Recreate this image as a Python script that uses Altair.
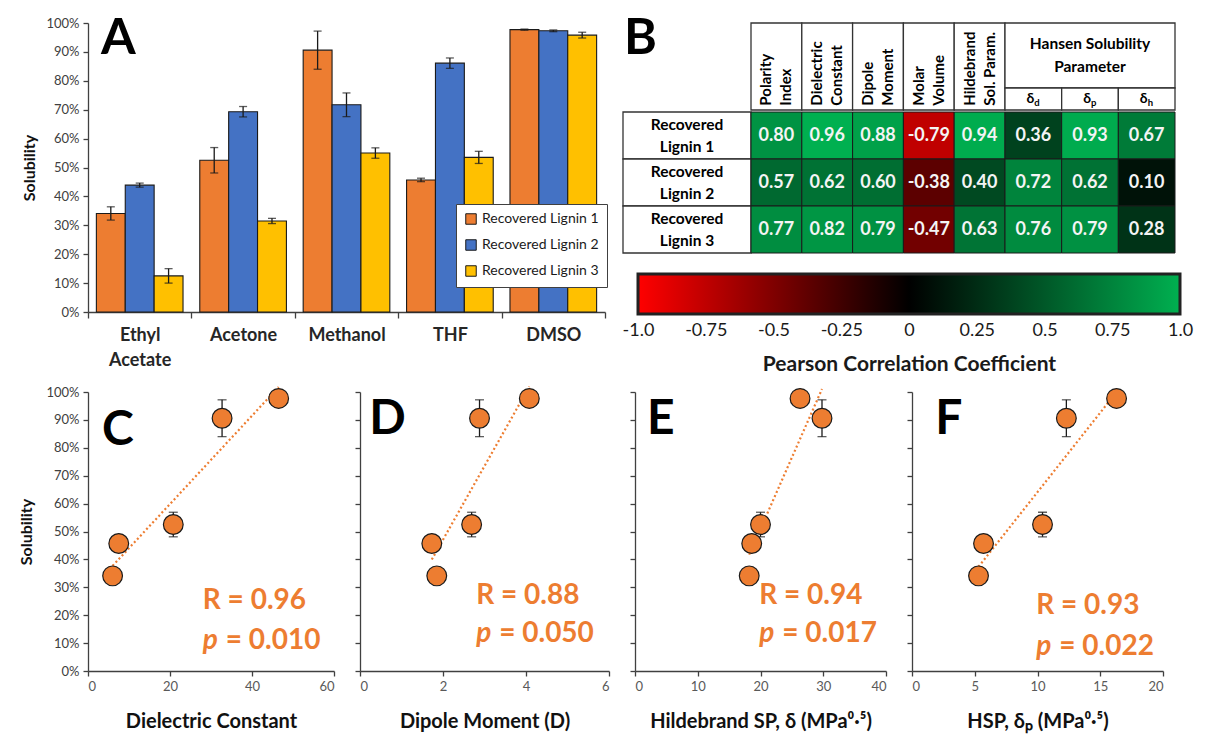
import altair as alt
import pandas as pd

FONT = "Lato"
ORANGE = "#ED7D31"
DARK = "#1a1a1a"
AXC = "#404040"

# ---------------- data ----------------
solvents = ["Ethyl Acetate", "Acetone", "Methanol", "THF", "DMSO"]
lignins = ["Recovered Lignin 1", "Recovered Lignin 2", "Recovered Lignin 3"]
lignin_colors = ["#ED7D31", "#4472C4", "#FFC000"]

sol_l1 = [34.1, 52.5, 90.6, 45.7, 97.7]
sol_l2 = [43.9, 69.3, 71.7, 86.1, 97.3]
sol_l3 = [12.5, 31.5, 55.0, 53.5, 95.8]
err_l1 = [2.3, 4.4, 6.6, 0.6, 0.2]
err_l2 = [0.7, 1.8, 4.1, 1.8, 0.3]
err_l3 = [2.5, 0.9, 1.8, 2.1, 1.0]
sol_ticks = list(range(0, 101, 10))

dielectric = [6.0, 20.8, 32.7, 7.5, 46.5]
dipole = [1.85, 2.69, 2.88, 1.73, 4.08]
hildebrand = [18.2, 20.0, 29.8, 18.6, 26.3]
hsp_dp = [5.3, 10.4, 12.3, 5.7, 16.3]

corr_cols_main = ["Polarity\nIndex", "Dielectric\nConstant", "Dipole\nMoment",
                  "Molar\nVolume", "Hildebrand\nSol. Param."]
corr_cols_hsp = ["d", "p", "h"]
hsp_header = "Hansen Solubility\nParameter"
row_labels = ["Recovered\nLignin 1", "Recovered\nLignin 2", "Recovered\nLignin 3"]
corr_l1 = [0.80, 0.96, 0.88, -0.79, 0.94, 0.36, 0.93, 0.67]
corr_l2 = [0.57, 0.62, 0.60, -0.38, 0.40, 0.72, 0.62, 0.10]
corr_l3 = [0.77, 0.82, 0.79, -0.47, 0.63, 0.76, 0.79, 0.28]

cbar_ticks = [-1.0, -0.75, -0.5, -0.25, 0.0, 0.25, 0.5, 0.75, 1.0]
cbar_labels = ["-1.0", "-0.75", "-0.5", "-0.25", "0", "0.25", "0.5", "0.75", "1.0"]

panels = [
    dict(letter="C", xvals=dielectric, xdom=[0, 60], xticks=[0, 20, 40, 60],
         xtitle="Dielectric Constant", R="R = 0.96", P="= 0.010",
         ann=(28.0, 25.0, 10.6), lpos=(3.4, 81.0), show_y=True),
    dict(letter="D", xvals=dipole, xdom=[0, 6], xticks=[0, 2, 4, 6],
         xtitle="Dipole Moment (D)", R="R = 0.88", P="= 0.050",
         ann=(2.8, 26.8, 13.4), lpos=(0.22, 85.0), show_y=False),
    dict(letter="E", xvals=hildebrand, xdom=[0, 40], xticks=[0, 10, 20, 30, 40],
         xtitle="Hildebrand SP, δ (MPa⁰·⁵)", R="R = 0.94", P="= 0.017",
         ann=(19.8, 26.9, 13.2), lpos=(1.9, 85.0), show_y=False),
    dict(letter="F", xvals=hsp_dp, xdom=[0, 20], xticks=[0, 5, 10, 15, 20],
         xtitle="HSP, δₚ (MPa⁰·⁵)", R="R = 0.93", P="= 0.022",
         ann=(9.9, 23.4, 8.6), lpos=(1.86, 85.0), show_y=False),
]

# ---------------- panel A ----------------
rows = []
for lig, sols, errs in zip(lignins, [sol_l1, sol_l2, sol_l3], [err_l1, err_l2, err_l3]):
    for s, v, e in zip(solvents, sols, errs):
        rows.append({"solvent": s, "lignin": lig, "sol": v, "lo": v - e, "hi": v + e})
dfA = pd.DataFrame(rows)

axA_x = alt.Axis(title=None, tickBand="extent", labelAngle=0, labelFontSize=18,
                 labelFontWeight="bold", labelColor="#262626", labelPadding=8,
                 labelLineHeight=25, labelExpr="split(datum.label, ' ')",
                 tickSize=6, domainColor=AXC, tickColor=AXC, domainWidth=1.3, tickWidth=1.3)
axA_y = alt.Axis(title="Solubility", values=sol_ticks, labelExpr="datum.value + '%'",
                 grid=False, titleFontSize=16, titleFontWeight="bold", titleColor="#111",
                 titlePadding=8, labelFontSize=13, labelColor="#404040", tickSize=5,
                 labelPadding=4, domainColor=AXC, tickColor=AXC, domainWidth=1.3, tickWidth=1.3)
scA_x = alt.Scale(paddingInner=0, paddingOuter=0)
scA_y = alt.Scale(domain=[0, 100], nice=False)


def XA(**kw):
    return alt.X("solvent:N", sort=solvents, scale=scA_x, axis=axA_x, **kw)


def YA(f):
    return alt.Y(f, scale=scA_y, axis=axA_y)


XO = alt.XOffset("lignin:N", sort=lignins, scale=alt.Scale(paddingInner=0, paddingOuter=0.29))

bars = alt.Chart(dfA).mark_bar(stroke=DARK, strokeWidth=1.1).encode(
    x=XA(), xOffset=XO, y=YA("sol:Q"),
    color=alt.Color("lignin:N", sort=lignins,
                    scale=alt.Scale(domain=lignins, range=lignin_colors),
                    legend=alt.Legend(title=None, orient="none", legendX=368, legendY=181,
                                      direction="vertical", fillColor="white",
                                      strokeColor="#404040", padding=8,
                                      symbolType="square", symbolSize=110,
                                      symbolStrokeColor=DARK, symbolStrokeWidth=1,
                                      symbolOpacity=1,
                                      labelFontSize=14, labelColor="#1a1a1a",
                                      labelOffset=4, rowPadding=10)))
err_rule = alt.Chart(dfA).mark_rule(color=DARK, strokeWidth=1.3).encode(
    x=XA(), xOffset=XO, y=YA("lo:Q"), y2="hi:Q")
cap_lo = alt.Chart(dfA).mark_tick(color=DARK, thickness=1.3, size=8, orient="horizontal").encode(
    x=XA(), xOffset=XO, y=YA("lo:Q"))
cap_hi = alt.Chart(dfA).mark_tick(color=DARK, thickness=1.3, size=8, orient="horizontal").encode(
    x=XA(), xOffset=XO, y=YA("hi:Q"))
letterA = alt.Chart(pd.DataFrame({"solvent": [solvents[0]], "ly": [89.3], "L": ["A"]})).mark_text(
    align="left", baseline="alphabetic", fontSize=50, fontWeight="bold", color="black", dx=13
).encode(x=XA(bandPosition=0), y=YA("ly:Q"), text="L:N")

chartA = alt.layer(bars, err_rule, cap_lo, cap_hi, letterA).properties(width=517, height=289)

# ---------------- panel B (table) ----------------
band0 = alt.Scale(type="band", paddingInner=0, paddingOuter=0)
all_corr = corr_l1 + corr_l2 + corr_l3
cell_scale = alt.Scale(domain=[min(all_corr), 0, max(all_corr)],
                       range=["#C00000", "#000000", "#00B050"], interpolate="rgb")

body_rows = []
all_cols = corr_cols_main + corr_cols_hsp
for rl, vals in zip(row_labels, [corr_l1, corr_l2, corr_l3]):
    for c, v in zip(all_cols, vals):
        body_rows.append({"row": rl, "col": c, "v": v, "lab": f"{v:.2f}"})
dfBody = pd.DataFrame(body_rows)


def cells_chart(cols, width):
    d = dfBody[dfBody["col"].isin(cols)]
    x = alt.X("col:N", sort=cols, scale=band0, axis=None)
    y = alt.Y("row:N", sort=row_labels, scale=band0, axis=None)
    r = alt.Chart(d).mark_rect(stroke=DARK, strokeWidth=1).encode(
        x=x, y=y, fill=alt.Fill("v:Q", scale=cell_scale, legend=None))
    t = alt.Chart(d).mark_text(color="#F4F4F4", fontSize=18, fontWeight="bold").encode(
        x=x, y=y, text="lab:N")
    return alt.layer(r, t).properties(width=width, height=141)


cells5 = cells_chart(corr_cols_main, 254)
cells3 = cells_chart(corr_cols_hsp, 170)

dfRL = pd.DataFrame({"row": row_labels, "k": ["r"] * 3})
rl_x = alt.X("k:N", scale=band0, axis=None)
rl_y = alt.Y("row:N", sort=row_labels, scale=band0, axis=None)
rl_rect = alt.Chart(dfRL).mark_rect(fill="white", stroke="#333", strokeWidth=1.3).encode(x=rl_x, y=rl_y)
rl_text = alt.Chart(dfRL).mark_text(fontSize=15.5, fontWeight="bold", color="black",
                                    lineBreak="\n", lineHeight=22, dy=-11).encode(
    x=rl_x, y=rl_y, text="row:N")
rowlab = alt.layer(rl_rect, rl_text).properties(width=128, height=141)

dfH5 = pd.DataFrame({"col": corr_cols_main, "k": ["h"] * 5})
h5_x = alt.X("col:N", sort=corr_cols_main, scale=band0, axis=None)
h5_rect = alt.Chart(dfH5).mark_rect(fill="white", stroke="#333", strokeWidth=1.3).encode(
    x=h5_x, y=alt.Y("k:N", scale=band0, axis=None))
h5_text = alt.Chart(dfH5).mark_text(angle=270, align="left", baseline="middle", fontSize=15,
                                    fontWeight="bold", color="black", lineBreak="\n",
                                    lineHeight=20, dy=-10).encode(
    x=h5_x, y=alt.Y("k:N", scale=band0, axis=None, bandPosition=0.95), text="col:N")
hdr5 = alt.layer(h5_rect, h5_text).properties(width=254, height=87)

dfHT = pd.DataFrame({"k": ["t"], "lab": [hsp_header]})
ht_x = alt.X("k:N", scale=band0, axis=None)
ht_y = alt.Y("k:N", scale=band0, axis=None)
ht_rect = alt.Chart(dfHT).mark_rect(fill="white", stroke="#333", strokeWidth=1.3).encode(x=ht_x, y=ht_y)
ht_text = alt.Chart(dfHT).mark_text(fontSize=15.5, fontWeight="bold", color="black",
                                    lineBreak="\n", lineHeight=23, dy=-11.5).encode(
    x=ht_x, y=ht_y, text="lab:N")
htop = alt.layer(ht_rect, ht_text).properties(width=170, height=65)

dfHS = pd.DataFrame({"col": corr_cols_hsp, "k": ["s"] * 3, "g": ["δ"] * 3})
xs_ = alt.X("col:N", sort=corr_cols_hsp, scale=band0, axis=None)
ys_ = alt.Y("k:N", scale=band0, axis=None)
hs_rect = alt.Chart(dfHS).mark_rect(fill="white", stroke="#333", strokeWidth=1.3).encode(x=xs_, y=ys_)
hs_g = alt.Chart(dfHS).mark_text(align="right", fontSize=14, fontWeight="bold", color="black",
                                 dx=1).encode(x=xs_, y=ys_, text="g:N")
hs_s = alt.Chart(dfHS).mark_text(align="left", fontSize=9.5, fontWeight="bold", color="black",
                                 dx=1, dy=4).encode(x=xs_, y=ys_, text="col:N")
hsub = alt.layer(hs_rect, hs_g, hs_s).properties(width=170, height=22)

dfCorner = pd.DataFrame({"k": ["c"], "L": ["B"]})
corner_rect = alt.Chart(dfCorner).mark_rect(
    fill="white", fillOpacity=0, stroke="white", strokeOpacity=0, strokeWidth=1.3
).encode(x=alt.X("k:N", scale=band0, axis=None), y=alt.Y("k:N", scale=band0, axis=None))
corner_text = alt.Chart(dfCorner).mark_text(
    align="left", baseline="alphabetic", fontSize=50, fontWeight="bold", color="black"
).encode(x=alt.value(1), y=alt.value(31), text="L:N")
corner = alt.layer(corner_rect, corner_text).properties(width=128, height=87)

hansen = alt.vconcat(htop, hsub, spacing=0, bounds="flush")
head = alt.hconcat(corner, hdr5, hansen, spacing=0, bounds="flush")
body = alt.hconcat(rowlab, cells5, cells3, spacing=0, bounds="flush")
table = alt.vconcat(head, body, spacing=0, bounds="full")

# colorbar
label_expr = "''"
for v, s in reversed(list(zip(cbar_ticks, cbar_labels))):
    label_expr = f"datum.value == {v} ? '{s}' : ({label_expr})"
dfCB = pd.DataFrame({"lo": [min(cbar_ticks)], "hi": [max(cbar_ticks)]})
grad = {"gradient": "linear", "x1": 0, "x2": 1, "y1": 0, "y2": 0,
        "stops": [{"offset": 0, "color": "#FF0000"},
                  {"offset": 0.5, "color": "#000000"},
                  {"offset": 1, "color": "#00B050"}]}
cbar = alt.Chart(dfCB).mark_rect(fill=grad, stroke="#222", strokeWidth=3).encode(
    x=alt.X("lo:Q", scale=alt.Scale(domain=[min(cbar_ticks), max(cbar_ticks)], nice=False),
            axis=alt.Axis(values=cbar_ticks, labelExpr=label_expr,
                          title="Pearson Correlation Coefficient", ticks=False, domain=False,
                          grid=False, labelFontSize=18, labelColor="#1a1a1a",
                          labelPadding=7, labelFlush=False, labelOverlap=False,
                          titleFontSize=21, titleFontWeight="bold", titleColor="#1a1a1a",
                          titlePadding=14)),
    x2="hi:Q").properties(width=542, height=40)
spacer = alt.Chart(pd.DataFrame({"k": [""]})).mark_text().encode(text="k:N").properties(width=1, height=40)
cbar_row = alt.hconcat(spacer, cbar, spacing=14, bounds="flush")

chartB = alt.vconcat(table, cbar_row, spacing=18, bounds="full")

# ---------------- panels C-F ----------------
def scatter_panel(p, width):
    df = pd.DataFrame({"solvent": solvents, "x": p["xvals"], "y": sol_l1, "err": err_l1})
    df["lo"] = df["y"] - df["err"]
    df["hi"] = df["y"] + df["err"]
    xs = alt.Scale(domain=p["xdom"], nice=False)
    ys = alt.Scale(domain=[0, 100], nice=False)
    xax = alt.Axis(values=p["xticks"], title=p["xtitle"], grid=False, labelFontSize=13,
                   labelColor="#595959", tickSize=5, labelPadding=4, domainColor=AXC,
                   tickColor=AXC, domainWidth=1.3, tickWidth=1.3, titleFontSize=20,
                   titleFontWeight="bold", titleColor="#111", titlePadding=18)
    if p["show_y"]:
        yax = alt.Axis(values=sol_ticks, labelExpr="datum.value + '%'", grid=False,
                       title="Solubility", titleFontSize=16, titleFontWeight="bold",
                       titleColor="#111", titlePadding=11, labelFontSize=13,
                       labelColor="#404040", tickSize=5, labelPadding=4, domainColor=AXC,
                       tickColor=AXC, domainWidth=1.3, tickWidth=1.3)
    else:
        yax = alt.Axis(values=sol_ticks, labels=False, title=None, grid=False, tickSize=5,
                       domainColor=AXC, tickColor=AXC, domainWidth=1.3, tickWidth=1.3)

    def X(f):
        return alt.X(f, scale=xs, axis=xax)

    def Y(f):
        return alt.Y(f, scale=ys, axis=yax)

    base = alt.Chart(df)
    rule = base.mark_rule(color=DARK, strokeWidth=1.3).encode(x=X("x:Q"), y=Y("lo:Q"), y2="hi:Q")
    c_lo = base.mark_tick(color=DARK, thickness=1.3, size=9, orient="horizontal").encode(
        x=X("x:Q"), y=Y("lo:Q"))
    c_hi = base.mark_tick(color=DARK, thickness=1.3, size=9, orient="horizontal").encode(
        x=X("x:Q"), y=Y("hi:Q"))
    trend = base.transform_regression("x", "y").mark_line(
        color=ORANGE, strokeDash=[2, 2.5], strokeWidth=2.2).encode(x=X("x:Q"), y=Y("y:Q"))
    pts = base.mark_circle(size=390, color=ORANGE, opacity=1, stroke=DARK,
                           strokeWidth=1.2).encode(x=X("x:Q"), y=Y("y:Q"))
    ax, yR, yP = p["ann"]
    ann = pd.DataFrame({"ax": [ax], "yR": [yR], "yP": [yP], "R": [p["R"]], "pl": ["p"],
                        "P": [p["P"]], "lx": [p["lpos"][0]], "ly": [p["lpos"][1]],
                        "L": [p["letter"]]})
    a = alt.Chart(ann)
    tR = a.mark_text(align="left", baseline="middle", fontSize=28, fontWeight="bold",
                     color=ORANGE).encode(x=X("ax:Q"), y=Y("yR:Q"), text="R:N")
    tp = a.mark_text(align="left", baseline="middle", fontSize=28, fontWeight="bold",
                     fontStyle="italic", color=ORANGE).encode(x=X("ax:Q"), y=Y("yP:Q"), text="pl:N")
    tv = a.mark_text(align="left", baseline="middle", fontSize=28, fontWeight="bold",
                     color=ORANGE, dx=23).encode(x=X("ax:Q"), y=Y("yP:Q"), text="P:N")
    tL = a.mark_text(align="left", baseline="alphabetic", fontSize=48, fontWeight="bold",
                     color="black").encode(x=X("lx:Q"), y=Y("ly:Q"), text="L:N")
    return alt.layer(rule, c_lo, c_hi, trend, pts, tR, tp, tv, tL).properties(width=width, height=279)


widths = [246, 249, 251, 251]
scatters = [scatter_panel(p, w) for p, w in zip(panels, widths)]

row_top = alt.hconcat(chartA, chartB, spacing=14, bounds="full").resolve_scale(color="independent")
row_bot = alt.hconcat(*scatters, spacing=19, bounds="full")

chart = alt.vconcat(row_top, row_bot, spacing=8, bounds="full").resolve_scale(
    color="independent"
).properties(
    padding={"left": 18, "top": 13, "right": 5, "bottom": 5},
    background="white",
).configure(font=FONT).configure_view(stroke=None)

chart.save("out.html", embed_options={"renderer": "svg", "actions": False})
